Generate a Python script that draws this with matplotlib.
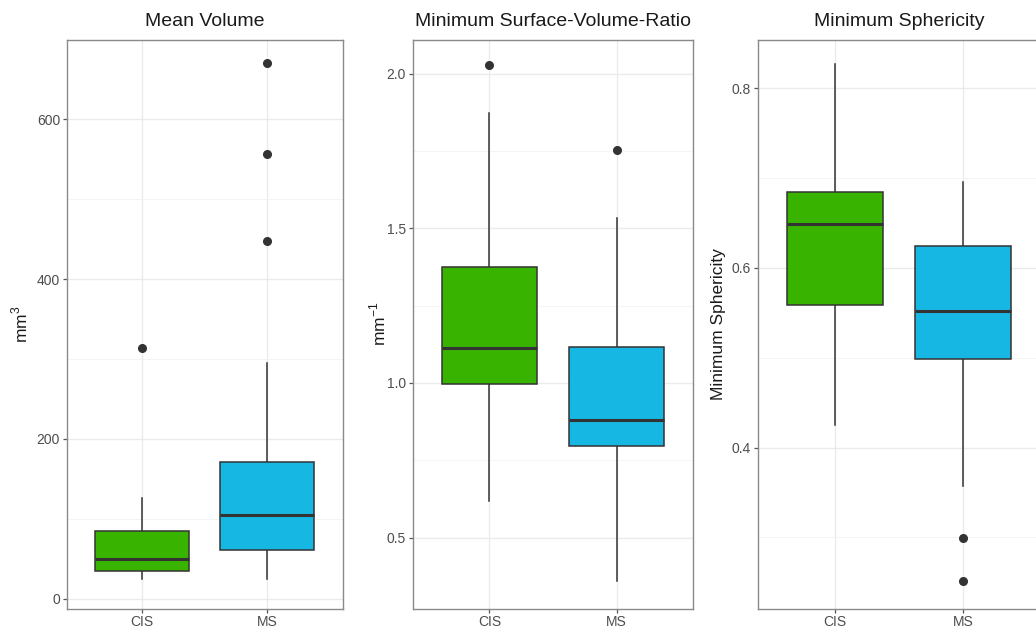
import matplotlib
matplotlib.use("Agg")
import matplotlib.pyplot as plt
import numpy as np

plt.rcParams['font.family'] = ['Liberation Sans', 'DejaVu Sans']

groups = ["CIS", "MS"]
fills = ["#38b400", "#17b7e3"]

# box statistics per group: whislo, q1, med, q3, whishi, outliers
vol_stats = [
    [24, 34, 50, 85, 126, [314]],
    [24, 61, 104, 171, 295, [448, 557, 670]],
]
svr_stats = [
    [0.619, 0.997, 1.113, 1.374, 1.874, [2.029]],
    [0.361, 0.797, 0.881, 1.116, 1.532, [1.752]],
]
sph_stats = [
    [0.425, 0.559, 0.649, 0.684, 0.827, []],
    [0.357, 0.499, 0.552, 0.624, 0.696, [0.299, 0.252]],
]

titles = ["Mean Volume", "Minimum Surface-Volume-Ratio", "Minimum Sphericity"]
ylabels = [r"mm$^{\mathregular{3}}$", r"mm$^{\mathregular{-1}}$", "Minimum Sphericity"]
yticks = [[0, 200, 400, 600], [0.5, 1.0, 1.5, 2.0], [0.4, 0.6, 0.8]]
yminor = [[100, 300, 500, 700], [0.75, 1.25, 1.75], [0.3, 0.5, 0.7]]
ylims = [(-12.5, 700), (0.271, 2.11), (0.221, 0.854)]
ytick_fmt = ["{:.0f}", "{:.1f}", "{:.1f}"]

W, H = 1036, 632
fig = plt.figure(figsize=(W / 100, H / 100), dpi=100)

# axes boxes in pixels: left, top, right, bottom
boxes = [(67, 39.5, 342.5, 608.5), (413, 39.5, 693, 608.5), (758, 39.5, 1040, 608.5)]
ylab_x = [20, 378, 718]

for i, stats in enumerate([vol_stats, svr_stats, sph_stats]):
    l, t, r, b = boxes[i]
    ax = fig.add_axes([l / W, 1 - b / H, (r - l) / W, (b - t) / H])
    bxp_stats = []
    for name, s in zip(groups, stats):
        bxp_stats.append(dict(label=name, whislo=s[0], q1=s[1], med=s[2],
                              q3=s[3], whishi=s[4], fliers=s[5]))
    arts = ax.bxp(bxp_stats, positions=[1, 2], widths=0.75, patch_artist=True,
                  showcaps=False,
                  boxprops=dict(edgecolor="#333333", linewidth=1.1),
                  medianprops=dict(color="#333333", linewidth=2.2),
                  whiskerprops=dict(color="#333333", linewidth=1.1),
                  flierprops=dict(marker="o", markerfacecolor="#333333",
                                  markeredgecolor="#333333", markersize=5.5))
    for patch, c in zip(arts["boxes"], fills):
        patch.set_facecolor(c)
        patch.set_zorder(2)
    for ln in arts["whiskers"]:
        ln.set_zorder(1.9)
    for ln in arts["medians"]:
        ln.set_zorder(3)

    ax.set_xlim(0.4, 2.6)
    ax.set_ylim(*ylims[i])
    ax.set_xticks([1, 2])
    ax.set_xticklabels(groups)
    ax.set_yticks(yticks[i])
    ax.set_yticklabels([ytick_fmt[i].format(v) for v in yticks[i]])
    ax.set_yticks(yminor[i], minor=True)
    ax.grid(True, which="major", color="#ebebeb", linewidth=1.0, zorder=0)
    ax.grid(True, which="minor", axis="y", color="#f3f3f3", linewidth=0.6, zorder=0)
    ax.set_axisbelow(True)
    ax.tick_params(axis="both", which="major", length=3, width=0.9, color="#555555",
                   labelcolor="#4d4d4d", labelsize=10, pad=2)
    ax.tick_params(axis="y", which="minor", length=0)
    for sp in ax.spines.values():
        sp.set_color("#8a8a8a")
        sp.set_linewidth(1.0)

    ax.set_title(titles[i], fontsize=14, color="#1a1a1a", pad=10)
    fig.text(ylab_x[i] / W, 1 - ((t + b) / 2) / H, ylabels[i], rotation=90,
             ha="center", va="center", fontsize=12.5, color="#1a1a1a")

plt.savefig("out.png", dpi=100)
